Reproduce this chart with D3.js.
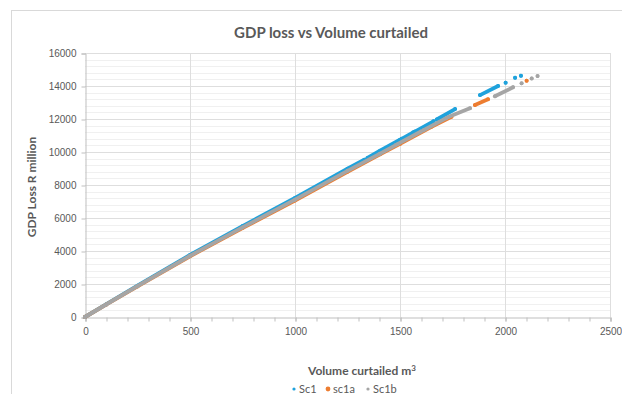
<!DOCTYPE html>
<html>
<head>
<meta charset="utf-8">
<script src="https://cdn.jsdelivr.net/npm/d3@7"></script>
<style>
  body { margin: 0; background: #fff; }
  svg { display: block; font-family: Lato, "Open Sans", sans-serif; }
</style>
</head>
<body>
<svg id="chart"></svg>
<script>
// runs of densely packed markers; null = gap between runs
const sc1Vol  = [0, 100, 250, 500, 750, 1000, 1250, 1330, null, 1345, 1405, 1500, null, 1508, 1563, null, 1571, 1659, null, 1675, 1762, null, 1881, 1967, null, 2003, null, 2048, null, 2076];
const sc1Gdp  = [0, 760, 1895, 3760, 5510, 7210, 8990, 9530, null, 9640, 10080, 10750, null, 10800, 11190, null, 11240, 11860, null, 11970, 12600, null, 13450, 14000, null, 14200, null, 14500, null, 14620];

const sc1aVol = [0, 100, 250, 500, 750, 1000, 1250, 1405, 1500, 1650, 1745, null, 1857, 1919, null, 2103];
const sc1aGdp = [0, 745, 1855, 3680, 5390, 7060, 8800, 9860, 10490, 11530, 12140, null, 12850, 13190, null, 14320];

const sc1bVol = [0, 100, 250, 500, 750, 1000, 1250, 1405, 1480, null, 1490, 1600, null, 1612, 1720, null, 1730, 1833, null, 1952, 2038, null, 2079, null, 2127, null, 2155];
const sc1bGdp = [0, 750, 1870, 3710, 5430, 7110, 8860, 9900, 10420, null, 10490, 11240, null, 11320, 12050, null, 12120, 12650, null, 13380, 13920, null, 14160, null, 14460, null, 14600];

const seriesNames = ["Sc1", "sc1a", "Sc1b"];
const seriesColors = ["#1fa2dc", "#ed7d31", "#a5a5a5"];

const xTicks = [0, 500, 1000, 1500, 2000, 2500];
const yTicks = [0, 2000, 4000, 6000, 8000, 10000, 12000, 14000, 16000];

function makeChart() {
    let w = 622;
    let h = 394;

    let svg = d3.select('#chart')
        .attr('width', w)
        .attr('height', h);

    // outer chart frame (cropped on right/bottom)
    svg.append('rect')
        .attr('x', 11.5).attr('y', 10.5)
        .attr('width', 700).attr('height', 500)
        .attr('fill', '#fff')
        .attr('stroke', '#d9d9d9');

    let xScale = d3.scaleLinear().domain([0, 2500]).range([85, 610]);
    let yScale = d3.scaleLinear().domain([0, 16000]).range([317, 53]);

    // minor horizontal gridlines
    svg.append('g').selectAll('line')
        .data(d3.range(0, 16001, 400).filter(v => v % 2000 !== 0))
        .enter().append('line')
        .attr('x1', 85).attr('x2', 610)
        .attr('y1', d => Math.round(yScale(d)) + 0.5)
        .attr('y2', d => Math.round(yScale(d)) + 0.5)
        .attr('stroke', '#f0f0f0');

    // major gridlines
    svg.append('g').selectAll('line')
        .data(yTicks.slice(1))
        .enter().append('line')
        .attr('x1', 85).attr('x2', 610)
        .attr('y1', d => Math.round(yScale(d)) + 0.5)
        .attr('y2', d => Math.round(yScale(d)) + 0.5)
        .attr('stroke', '#dedede');

    svg.append('g').selectAll('line')
        .data(xTicks.slice(1))
        .enter().append('line')
        .attr('x1', d => Math.round(xScale(d)) + 0.5)
        .attr('x2', d => Math.round(xScale(d)) + 0.5)
        .attr('y1', 53).attr('y2', 317)
        .attr('stroke', '#dedede');

    // x axis with minor ticks
    let xMinor = d3.axisBottom(xScale)
        .tickValues(d3.range(0, 2501, 100))
        .tickSize(4)
        .tickFormat('');
    let xMinorGroup = svg.append('g')
        .attr('transform', `translate(0.5, ${317.5})`)
        .call(xMinor);
    xMinorGroup.selectAll('line').attr('stroke', '#bfbfbf');
    xMinorGroup.select('.domain').remove();

    let xAxis = d3.axisBottom(xScale)
        .tickValues(xTicks)
        .tickSize(4)
        .tickPadding(6)
        .tickFormat(d3.format('d'));
    let xAxisGroup = svg.append('g')
        .attr('transform', `translate(0.5, ${317.5})`)
        .call(xAxis);
    xAxisGroup.select('.domain').attr('stroke', '#bfbfbf');
    xAxisGroup.selectAll('line').attr('stroke', '#bfbfbf');
    xAxisGroup.selectAll('text')
        .attr('fill', '#595959')
        .style('font-size', '10px');

    let yAxis = d3.axisLeft(yScale)
        .tickValues(yTicks)
        .tickSize(4)
        .tickPadding(5)
        .tickFormat(d3.format('d'));
    let yAxisGroup = svg.append('g')
        .attr('transform', `translate(85.5, 0.5)`)
        .call(yAxis);
    yAxisGroup.select('.domain').attr('stroke', '#bfbfbf');
    yAxisGroup.selectAll('line').attr('stroke', '#bfbfbf');
    yAxisGroup.selectAll('text')
        .attr('fill', '#595959')
        .style('font-size', '10px');

    // series
    let allSeries = [
        { name: seriesNames[0], vol: sc1Vol, gdp: sc1Gdp, color: seriesColors[0] },
        { name: seriesNames[1], vol: sc1aVol, gdp: sc1aGdp, color: seriesColors[1] },
        { name: seriesNames[2], vol: sc1bVol, gdp: sc1bGdp, color: seriesColors[2] }
    ];

    let line = d3.line()
        .defined(d => d[0] !== null)
        .x(d => xScale(d[0]))
        .y(d => yScale(d[1]));

    allSeries.forEach(s => {
        let pts = s.vol.map((v, i) => [v, s.gdp[i]]);
        svg.append('path')
            .datum(pts)
            .attr('d', line)
            .attr('fill', 'none')
            .attr('stroke', s.color)
            .attr('stroke-width', 3.8)
            .attr('stroke-linecap', 'round');
        svg.append('g').selectAll('circle')
            .data(pts.filter(d => d[0] !== null))
            .enter().append('circle')
            .attr('cx', d => xScale(d[0]))
            .attr('cy', d => yScale(d[1]))
            .attr('r', 2)
            .attr('fill', s.color);
    });

    // titles
    svg.append('text')
        .attr('x', 331).attr('y', 38)
        .attr('text-anchor', 'middle')
        .attr('fill', '#595959')
        .style('font-size', '15px')
        .style('font-weight', 'bold')
        .text('GDP loss vs Volume curtailed');

    svg.append('text')
        .attr('transform', 'translate(36, 187) rotate(-90)')
        .attr('text-anchor', 'middle')
        .attr('fill', '#595959')
        .style('font-size', '12px')
        .style('font-weight', 'bold')
        .text('GDP Loss R million');

    let xTitle = svg.append('text')
        .attr('x', 362).attr('y', 375)
        .attr('text-anchor', 'middle')
        .attr('fill', '#595959')
        .style('font-size', '12px')
        .style('font-weight', 'bold')
        .text('Volume curtailed m');
    xTitle.append('tspan')
        .attr('dy', -4)
        .style('font-size', '8px')
        .text('3');

    // legend
    let legendX = [294, 328, 368];
    let legendR = [1.6, 2.4, 1.6];
    let legend = svg.append('g');
    allSeries.forEach((s, i) => {
        legend.append('circle')
            .attr('cx', legendX[i]).attr('cy', 389)
            .attr('r', legendR[i])
            .attr('fill', s.color);
        legend.append('text')
            .attr('x', legendX[i] + 5).attr('y', 393)
            .attr('fill', '#595959')
            .style('font-size', '11px')
            .text(s.name);
    });
}

window.onload = function() {
    makeChart();
}
</script>
</body>
</html>
